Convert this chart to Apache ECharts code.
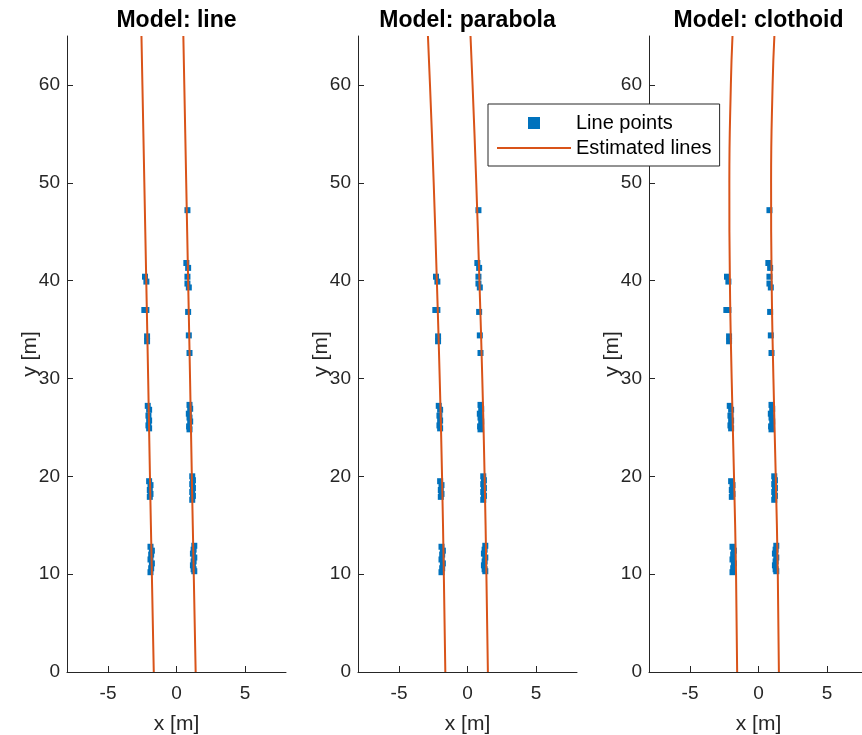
<!DOCTYPE html>
<html><head><meta charset="utf-8">
<script src="https://cdn.jsdelivr.net/npm/echarts@6/dist/echarts.min.js"></script>
<style>html,body{margin:0;padding:0;background:#fff}#c{width:862px;height:735px}</style>
</head><body><div id="c"></div>
<script>
// Measured line points (x [m], y [m]) – same in all panels
const pointX = [0.80,0.72,0.85,0.80,0.80,0.90,0.85,0.90,0.95,
  0.95,1.00,0.90,0.95,1.00,0.92,0.95,
  1.15,1.20,1.15,1.20,1.15,1.20,1.15,
  1.30,1.25,1.20,1.30,1.25,1.20,1.25,1.30,
  -2.30,-2.20,-2.35,-2.20,-2.15,-2.15,
  -2.10,-2.00,-2.05,-2.00,-2.05,-2.00,
  -2.00,-1.90,-1.95,-1.90,-1.95,
  -1.90,-1.80,-1.85,-1.90,-1.80,-1.85,-1.90];
const pointY = [47.2,41.8,41.3,40.4,39.7,39.3,36.8,34.4,32.6,
  27.3,26.9,26.4,26.0,25.6,25.1,24.8,
  20.0,19.6,19.2,18.8,18.4,18.0,17.6,
  12.9,12.5,12.1,11.7,11.3,10.9,10.5,10.3,
  40.4,39.9,37.0,37.0,34.3,33.8,
  27.2,26.8,26.2,25.7,25.2,24.9,
  19.5,19.1,18.6,18.2,17.9,
  12.8,12.4,12.0,11.5,11.1,10.6,10.2];

// Estimated lines, sampled at these y values
const curveY = [0,10,20,30,40,50,60,65];
const lineLeftX = [-1.66,-1.80,-1.94,-2.07,-2.21,-2.35,-2.49,-2.56];
const lineRightX = [1.40,1.26,1.12,0.99,0.85,0.71,0.57,0.50];
const parabolaLeftX = [-1.62,-1.73,-1.86,-2.03,-2.24,-2.47,-2.74,-2.89];
const parabolaRightX = [1.49,1.38,1.25,1.08,0.87,0.64,0.37,0.22];
const clothoidLeftX = [-1.56,-1.64,-1.79,-1.96,-2.09,-2.13,-2.02,-1.90];
const clothoidRightX = [1.49,1.41,1.26,1.09,0.96,0.92,1.03,1.16];

const titles = ['Model: line','Model: parabola','Model: clothoid'];
const xTicks = [-5,0,5];
const yTicks = [0,10,20,30,40,50,60];

const models = [[lineLeftX,lineRightX],[parabolaLeftX,parabolaRightX],[clothoidLeftX,clothoidRightX]];
const gridLefts = [67,358,649];
const FONT = 'Liberation Sans, Arial, sans-serif';
const AX = '#262626';

const pts = pointX.map((x,i)=>[x,pointY[i]]);
const toXY = xs => xs.map((x,i)=>[x,curveY[i]]);

const grid=[],xAxis=[],yAxis=[],title=[],series=[];
gridLefts.forEach((l,i)=>{
  grid.push({left:l,top:36,width:219,height:636,containLabel:false,outerBoundsMode:'none'});
  title.push({text:titles[i],left:l+109.5,top:9,textAlign:'center',padding:0,
    textStyle:{fontFamily:FONT,fontSize:23,fontWeight:'bold',color:'#000'}});
  xAxis.push({type:'value',gridIndex:i,min:-8,max:8,
    name:'x [m]',nameLocation:'middle',nameGap:42,nameMoveOverlap:false,
    nameTextStyle:{fontFamily:FONT,fontSize:21,color:AX},
    axisLine:{onZero:false,lineStyle:{color:AX,width:1}},
    axisTick:{inside:true,length:6,customValues:xTicks,lineStyle:{color:AX}},
    axisLabel:{customValues:xTicks,fontFamily:FONT,fontSize:19,color:AX,margin:12},
    splitLine:{show:false}});
  yAxis.push({type:'value',gridIndex:i,min:0,max:65,
    name:'y [m]',nameLocation:'middle',nameGap:26,nameMoveOverlap:false,
    nameTextStyle:{fontFamily:FONT,fontSize:21,color:AX},
    axisLine:{onZero:false,lineStyle:{color:AX,width:1}},
    axisTick:{inside:true,length:6,customValues:yTicks,lineStyle:{color:AX}},
    axisLabel:{customValues:yTicks,fontFamily:FONT,fontSize:19,color:AX,margin:7,padding:[12,0,0,0]},
    splitLine:{show:false}});
  series.push({type:'scatter',name:'Line points',xAxisIndex:i,yAxisIndex:i,
    data:pts,symbol:'rect',symbolSize:6,itemStyle:{color:'#0072BD',opacity:1},z:2});
  models[i].forEach(xs=>{
    series.push({type:'line',name:'Estimated lines',xAxisIndex:i,yAxisIndex:i,
      data:toXY(xs),smooth:true,showSymbol:false,symbol:'none',
      lineStyle:{color:'#D95319',width:2},itemStyle:{color:'#D95319'},z:3});
  });
});

const chart = echarts.init(document.getElementById('c'),null,{renderer:'canvas'});
chart.setOption({
  animation:false,
  backgroundColor:'#fff',
  title, grid, xAxis, yAxis, series,
  legend:{left:488,top:104,orient:'vertical',
    padding:[9,8,8,9],itemGap:5,itemWidth:74,itemHeight:12,
    borderColor:AX,borderWidth:1,backgroundColor:'#fff',z:10,
    textStyle:{fontFamily:FONT,fontSize:20,color:'#000',lineHeight:20},
    data:[{name:'Line points',icon:'path://M0,6L74,6L0,6Z M31,0L43,0L43,12L31,12Z',itemStyle:{color:'#0072BD'}},
          {name:'Estimated lines',icon:'path://M0,0L74,0L0,0Z M0,12L74,12L0,12Z M0,5L74,5L74,7L0,7Z',itemStyle:{color:'#D95319'}}]}
});
</script></body></html>
